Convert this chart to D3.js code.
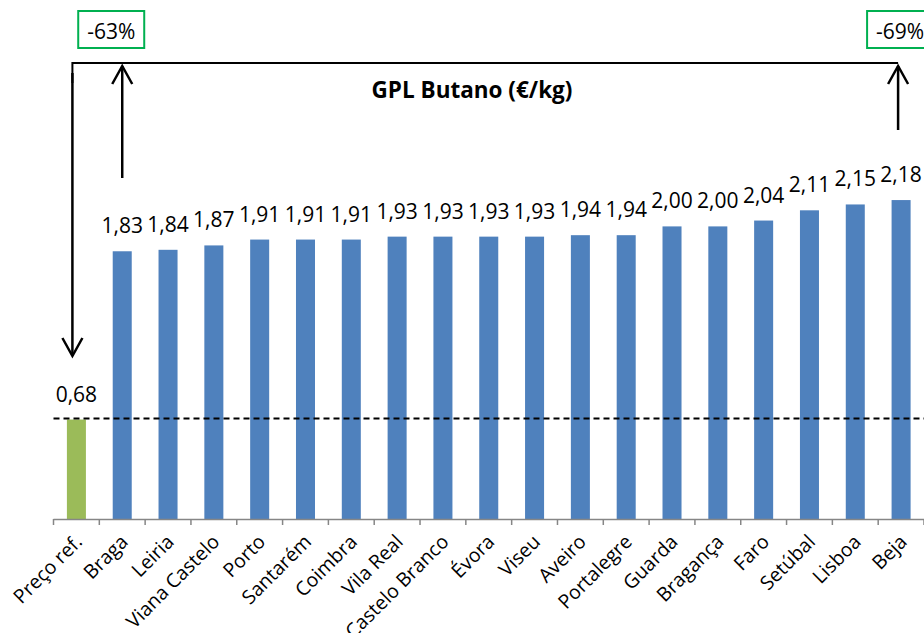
<!DOCTYPE html>
<html>
<head>
<meta charset="utf-8">
<script src="https://d3js.org/d3.v7.min.js"></script>
<style>
    body { margin: 0; background: #fff; }
    svg { display: block; font-family: "Open Sans", sans-serif; }
</style>
</head>
<body>
<div id="chart"></div>
<script>
    // data
    var categories = ["Preço ref.", "Braga", "Leiria", "Viana Castelo", "Porto", "Santarém", "Coimbra",
        "Vila Real", "Castelo Branco", "Évora", "Viseu", "Aveiro", "Portalegre", "Guarda",
        "Bragança", "Faro", "Setúbal", "Lisboa", "Beja"];
    var prices = [0.68, 1.83, 1.84, 1.87, 1.91, 1.91, 1.91, 1.93, 1.93, 1.93, 1.93, 1.94, 1.94,
        2.00, 2.00, 2.04, 2.11, 2.15, 2.18];
    var refCategory = "Preço ref.";
    var refPrice = 0.68;
    var title = "GPL Butano (€/kg)";
    var lowCity = "Braga", highCity = "Beja";

    var width = 924, height = 633;
    var base = 519;

    var svg = d3.select("#chart").append("svg")
        .attr("width", width)
        .attr("height", height);

    var x = d3.scaleBand()
        .domain(categories)
        .range([53.5, 924])
        .paddingInner(0.585)
        .paddingOuter(0.2925);

    var y = d3.scaleLinear()
        .domain([0, 2.5])
        .range([base, base - 2.5 * 146.3]);

    var fmt = function (v) { return d3.format(".2f")(v).replace(".", ","); };
    var cx = function (c) { return x(c) + x.bandwidth() / 2; };

    var rows = categories.map(function (c, i) { return { cat: c, v: prices[i] }; });

    // bars
    svg.selectAll(".bar")
        .data(rows)
        .enter().append("rect")
        .attr("class", "bar")
        .attr("x", function (d) { return x(d.cat); })
        .attr("width", x.bandwidth())
        .attr("y", function (d) { return y(d.v); })
        .attr("height", function (d) { return base - y(d.v); })
        .attr("fill", function (d) { return d.cat === refCategory ? "#9BBB59" : "#4F81BD"; });

    // value labels
    svg.selectAll(".val")
        .data(rows)
        .enter().append("text")
        .attr("class", "val")
        .attr("x", function (d) { return cx(d.cat); })
        .attr("y", function (d) { return y(d.v) - 18; })
        .attr("text-anchor", "middle")
        .style("font-size", "21px")
        .attr("fill", "#000")
        .text(function (d) { return fmt(d.v); });

    // x axis: line, ticks between categories, rotated labels
    var axis = svg.append("g").attr("class", "xaxis");
    var r = x.range();
    axis.append("line")
        .attr("x1", r[0]).attr("x2", r[1])
        .attr("y1", base + 0.5).attr("y2", base + 0.5)
        .attr("stroke", "#868686").attr("stroke-width", 1.5);
    var edges = d3.range(categories.length + 1).map(function (i) { return r[0] + i * x.step(); });
    axis.selectAll(".tick")
        .data(edges)
        .enter().append("line")
        .attr("class", "tick")
        .attr("x1", function (d) { return d; }).attr("x2", function (d) { return d; })
        .attr("y1", base).attr("y2", base + 6)
        .attr("stroke", "#868686").attr("stroke-width", 1.5);
    axis.selectAll(".lab")
        .data(categories)
        .enter().append("text")
        .attr("class", "lab")
        .attr("text-anchor", "end")
        .attr("transform", function (c) { return "translate(" + (cx(c) + 7) + "," + 543 + ") rotate(-45)"; })
        .style("font-size", "19.5px")
        .attr("fill", "#000")
        .text(function (c) { return c; });

    // reference dashed line
    svg.append("line")
        .attr("x1", r[0]).attr("x2", width)
        .attr("y1", y(refPrice) - 1).attr("y2", y(refPrice) - 1)
        .attr("stroke", "#000").attr("stroke-width", 1.8)
        .attr("stroke-dasharray", "6,4");

    // title
    svg.append("text")
        .attr("x", 472).attr("y", 98)
        .attr("text-anchor", "middle")
        .style("font-size", "22.5px")
        .style("font-weight", "bold")
        .text(title);

    // bracket and arrows
    var topY = 63;
    var xRef = cx(refCategory) - 4;
    var xLow = cx(lowCity);
    var xHigh = cx(highCity) - 3;
    var ann = svg.append("g").attr("fill", "none").attr("stroke", "#000");
    ann.append("path")
        .attr("d", "M" + xRef + "," + (topY + 20) + "V" + topY + "H" + xHigh)
        .attr("stroke-width", 2);
    function arrow(xp, y1, y2) {
        // y2 is the tip
        var dir = y2 < y1 ? 1 : -1;
        ann.append("path")
            .attr("d", "M" + xp + "," + y1 + "V" + y2)
            .attr("stroke-width", 2.5);
        ann.append("path")
            .attr("d", "M" + (xp - 10) + "," + (y2 + dir * 18) + "L" + xp + "," + y2 + "L" + (xp + 10) + "," + (y2 + dir * 18))
            .attr("stroke-width", 2.5);
    }
    arrow(xRef, topY + 10, 356);
    arrow(xLow, 178, 66);
    arrow(xHigh, 130, 66);

    // percentage boxes
    var lowPrice = prices[categories.indexOf(lowCity)];
    var highPrice = prices[categories.indexOf(highCity)];
    var boxes = [
        { cx: cx(lowCity) - 11, txt: Math.round((refPrice / lowPrice - 1) * 100) + "%" },
        { cx: cx(highCity) - 1, txt: Math.round((refPrice / highPrice - 1) * 100) + "%" }
    ];
    var bg = svg.selectAll(".pct").data(boxes).enter().append("g").attr("class", "pct");
    bg.append("rect")
        .attr("x", function (d) { return d.cx - 33; })
        .attr("y", 11)
        .attr("width", 66).attr("height", 37)
        .attr("fill", "#fff")
        .attr("stroke", "#00B050").attr("stroke-width", 2);
    bg.append("text")
        .attr("x", function (d) { return d.cx; })
        .attr("y", 39)
        .attr("text-anchor", "middle")
        .style("font-size", "21px")
        .text(function (d) { return d.txt; });
</script>
</body>
</html>
